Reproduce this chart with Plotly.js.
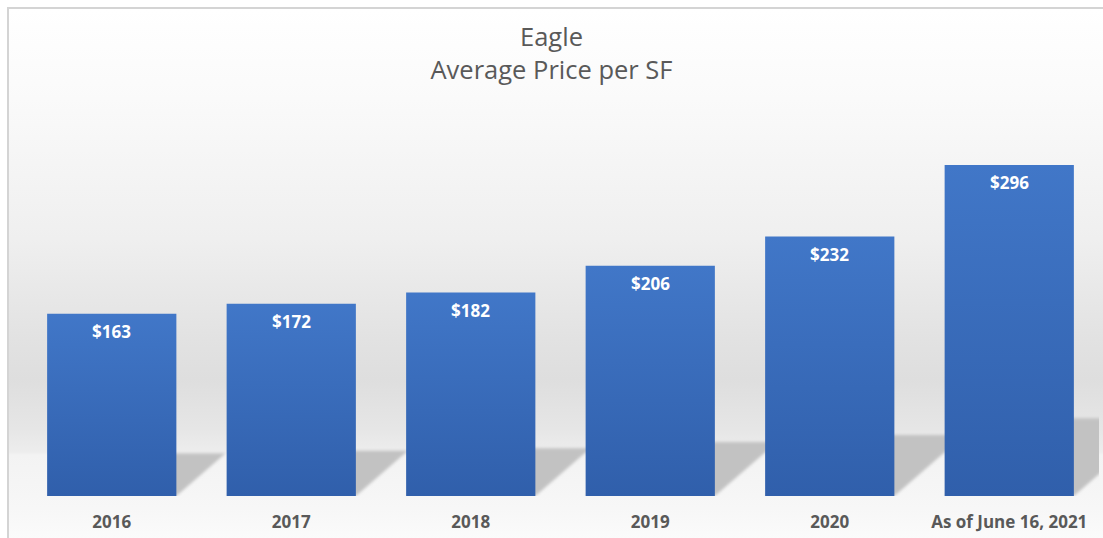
<!DOCTYPE html>
<html>
<head>
<meta charset="utf-8">
<script src="https://cdn.plot.ly/plotly-3.0.1.min.js"></script>
<style>
    html, body { margin: 0; padding: 0; background: #ffffff; }
    /* chart frame with the soft grey backdrop */
    #frame {
        position: absolute; left: 0; top: 0; width: 1103px; height: 538px;
        background: #ffffff;
    }
    #backdrop {
        position: absolute; left: 7px; top: 7px; width: 1096px; height: 531px;
        border-left: 2px solid #d4d4d4; border-top: 2px solid #d4d4d4;
        background: linear-gradient(to bottom,
            #ffffff 0px, #fafafa 90px, #efefef 230px, #e2e2e2 330px,
            #dedede 370px, #e6e6e6 420px, #ededed 443px,
            #f3f3f3 446px, #f7f7f7 500px, #fbfbfb 531px);
    }
    #chart { position: absolute; left: 0; top: 0; width: 1103px; height: 538px; }
</style>
</head>
<body>
<div id="frame">
    <div id="backdrop"></div>
    <div id="chart"></div>
</div>
<script>
// Values
const categories = ['2016', '2017', '2018', '2019', '2020', 'As of June 16, 2021'];
const pricePerSF = [163, 172, 182, 206, 232, 296];
const priceLabels = ['$163', '$172', '$182', '$206', '$232', '$296'];

const chartWidth = 1103;
const chartHeight = 538;
const margin = { l: 22, r: 4, t: 120, b: 42, pad: 0 };
const yMax = 336.3;

// Floor shadows: each bar's silhouette thrown back and to the right.
// Drawn on a hidden linear x axis (x2) that lines up with the category slots.
const plotW = chartWidth - margin.l - margin.r;
const plotH = chartHeight - margin.t - margin.b;
const pxPerUnit = plotH / yMax;
const pxPerCat = plotW / categories.length;
const halfBar = 0.36;
const shadowShapes = pricePerSF.map((v, i) => {
    const dx = 0.27 * v * pxPerUnit / pxPerCat;
    const top = 0.235 * v;
    const x0 = i - halfBar, x1 = i + halfBar;
    return {
        type: 'path',
        xref: 'x2', yref: 'y',
        layer: 'below',
        path: `M ${x0},0 L ${x1},0 L ${x1 + dx},${top} L ${x0 + dx},${top} Z`,
        fillcolor: '#c2c2c2',
        line: { width: 0 }
    };
});

// Price labels just inside the top of each bar
// (category axes take the category's index for annotation x)
const labelAnnotations = pricePerSF.map((v, i) => ({
    x: i, y: v,
    xref: 'x', yref: 'y',
    text: priceLabels[i],
    showarrow: false,
    yanchor: 'top', yshift: -4,
    font: { family: 'Open Sans, sans-serif', size: 17, color: '#ffffff', weight: 'bold' }
}));

const data = [{
    type: 'bar',
    x: categories,
    y: pricePerSF,
    marker: { color: '#3a6bbd', line: { width: 0 } },
    hoverinfo: 'x+y'
}];

const layout = {
    width: chartWidth,
    height: chartHeight,
    margin: margin,
    paper_bgcolor: 'rgba(0,0,0,0)',
    plot_bgcolor: 'rgba(0,0,0,0)',
    showlegend: false,
    bargap: 0.28,
    title: {
        text: 'Eagle<br>Average Price per SF',
        x: 0.5, xanchor: 'center',
        y: 0.915, yanchor: 'top',
        font: { family: 'Open Sans, sans-serif', size: 25.5, color: '#595959' }
    },
    xaxis: {
        type: 'category',
        categoryorder: 'array', categoryarray: categories,
        range: [-0.5, categories.length - 0.5],
        showgrid: false, zeroline: false, showline: false,
        ticks: '',
        ticklabelstandoff: 14,
        tickfont: { family: 'Open Sans, sans-serif', size: 17, color: '#595959', weight: 'bold' }
    },
    xaxis2: {
        overlaying: 'x',
        range: [-0.5, categories.length - 0.5],
        visible: false, showgrid: false, zeroline: false
    },
    yaxis: {
        visible: false,
        range: [0, yMax],
        showgrid: false, zeroline: false
    },
    shapes: shadowShapes,
    annotations: labelAnnotations
};

Plotly.newPlot('chart', data, layout, { displayModeBar: false, staticPlot: true })
    .then(() => {
        const svg = document.querySelector('#chart .main-svg');
        const ns = 'http://www.w3.org/2000/svg';
        let defs = svg.querySelector('defs');
        if (!defs) { defs = document.createElementNS(ns, 'defs'); svg.prepend(defs); }

        // Same top-to-bottom blue gradient as the reference bars
        const grad = document.createElementNS(ns, 'linearGradient');
        grad.setAttribute('id', 'barGrad');
        grad.setAttribute('x1', '0'); grad.setAttribute('y1', '0');
        grad.setAttribute('x2', '0'); grad.setAttribute('y2', '1');
        [['0', '#4177c8'], ['1', '#305fab']].forEach(([off, col]) => {
            const s = document.createElementNS(ns, 'stop');
            s.setAttribute('offset', off);
            s.setAttribute('stop-color', col);
            grad.appendChild(s);
        });
        defs.appendChild(grad);
        document.querySelectorAll('#chart .trace.bars .point path').forEach(p => {
            p.style.fill = 'url(#barGrad)';
        });

        // Soften the floor shadows a little
        const blur = document.createElementNS(ns, 'filter');
        blur.setAttribute('id', 'shadowBlur');
        blur.setAttribute('x', '-0.2'); blur.setAttribute('y', '-0.2');
        blur.setAttribute('width', '1.4'); blur.setAttribute('height', '1.4');
        const fe = document.createElementNS(ns, 'feGaussianBlur');
        fe.setAttribute('stdDeviation', '1.5');
        blur.appendChild(fe);
        defs.appendChild(blur);
        document.querySelectorAll('#chart .shapelayer path').forEach(p => {
            p.setAttribute('filter', 'url(#shadowBlur)');
        });
    })
    .catch(err => console.error('Plotly error:', err));
</script>
</body>
</html>
